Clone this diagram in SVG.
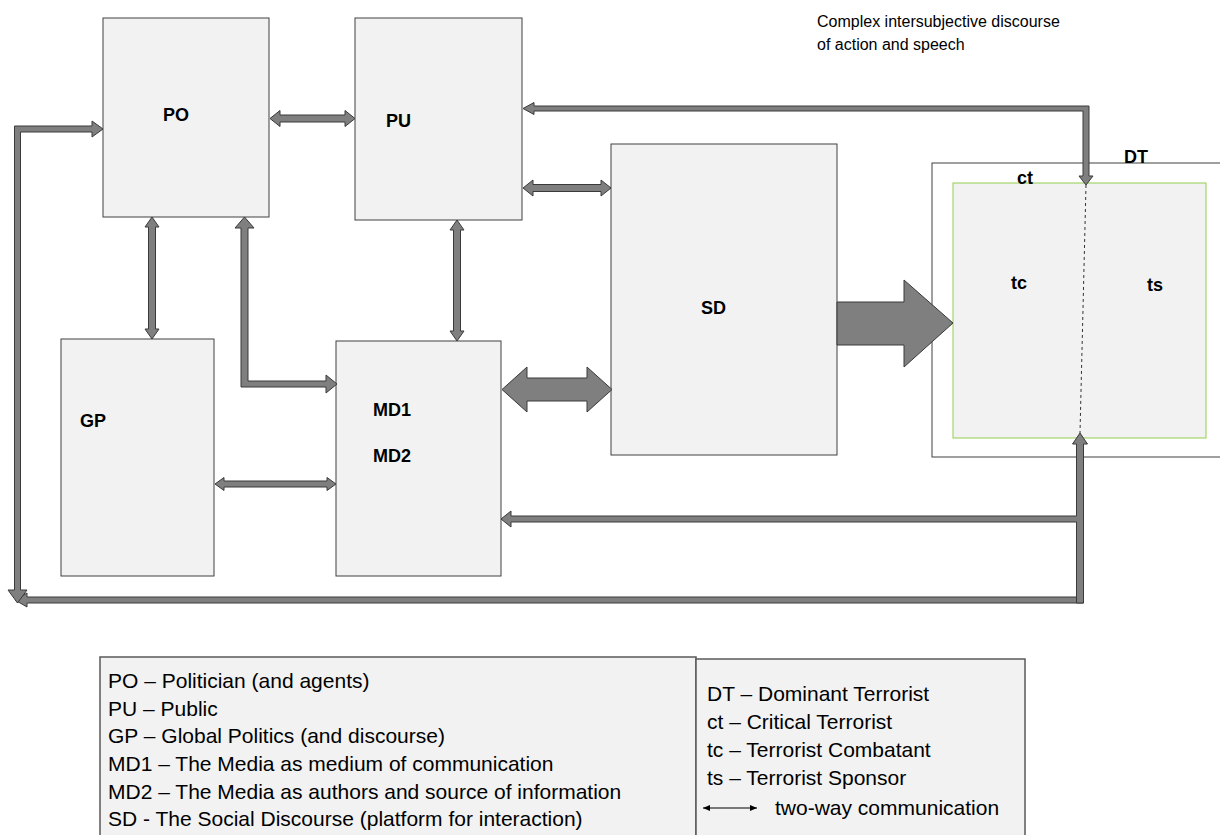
<svg xmlns="http://www.w3.org/2000/svg" width="1220" height="835" viewBox="0 0 1220 835">
<defs>
<style>
.box{fill:#f2f2f2;stroke:#404040;stroke-width:1}
.lbl{font-family:"Liberation Sans",Arial,sans-serif;font-weight:bold;font-size:18px;fill:#000}
.txt{font-family:"Liberation Sans",Arial,sans-serif;font-size:21px;fill:#000}
.note{font-family:"Liberation Sans",Arial,sans-serif;font-size:16px;fill:#000}
.arr{fill:#7f7f7f;stroke:#3a3a3a;stroke-width:1;stroke-linejoin:miter}
</style>
<marker id="th" markerWidth="8" markerHeight="8" refX="7" refY="4" orient="auto-start-reverse" markerUnits="userSpaceOnUse">
<path d="M0,1 L7,4 L0,7 z" fill="#000"/>
</marker>
</defs>
<rect width="1220" height="835" fill="#fff"/>

<g id="note">
<text class="note" x="817" y="27">Complex intersubjective discourse</text>
<text class="note" x="817" y="50">of action and speech</text>
</g>

<g id="DT">
<rect x="932" y="163" width="300" height="294" fill="#fff" stroke="#404040" stroke-width="1"/>
<text class="lbl" x="1124" y="163">DT</text>
</g>
<g id="ct">
<rect x="953" y="183" width="253" height="255" fill="#f2f2f2" stroke="#92d050" stroke-width="1"/>
<text class="lbl" x="1017" y="184">ct</text>
<line x1="1086" y1="185" x2="1080" y2="433" stroke="#333" stroke-width="1" stroke-dasharray="3 3"/>
<text class="lbl" x="1011" y="289">tc</text>
<text class="lbl" x="1147" y="291">ts</text>
</g>

<g id="PO"><rect class="box" x="103" y="18" width="166" height="199"/><text class="lbl" x="163" y="121">PO</text></g>
<g id="PU"><rect class="box" x="355" y="18" width="167" height="202"/><text class="lbl" x="386" y="127">PU</text></g>
<g id="SD"><rect class="box" x="611" y="144" width="226" height="311"/><text class="lbl" x="701" y="314">SD</text></g>
<g id="GP"><rect class="box" x="61" y="339" width="153" height="237"/><text class="lbl" x="80" y="427">GP</text></g>
<g id="MD"><rect class="box" x="336" y="341" width="165" height="235"/><text class="lbl" x="373" y="416">MD1</text><text class="lbl" x="373" y="462">MD2</text></g>

<g id="connectors">
<polygon class="arr" points="270,118.5 280,110.5 280,115 345,115 345,110.5 355,118.5 345,126.5 345,122 280,122 280,126.5"/>
<polygon class="arr" points="523,188 533,180 533,184.5 601,184.5 601,180 611,188 601,196 601,191.5 533,191.5 533,196"/>
<polygon class="arr" points="523,108.5 534,102.5 534,106 1089,106 1089,176 1093,176 1086,185 1079,176 1083,176 1083,111 534,111 534,114.5"/>
<polygon class="arr" points="152,217 159,227 155.5,227 155.5,329 159,329 152,339 145,329 148.5,329 148.5,227 145,227"/>
<polygon class="arr" points="244.5,217 254,228 248,228 248,381 326,381 326,375 337,384 326,393 326,387 241,387 241,228 235,228"/>
<polygon class="arr" points="457,220 464,230 460.5,230 460.5,331 464,331 457,341 450,331 453.5,331 453.5,230 450,230"/>
<polygon class="arr" points="215,484 224,477.5 224,481 327,481 327,477.5 336,484 327,490.5 327,487 224,487 224,490.5"/>
<polygon class="arr" points="502,389.5 527,367 527,378 587,378 587,367 612,389.5 587,412 587,401 527,401 527,412"/>
<polygon class="arr" points="837,302 904,302 904,280 953,323 904,367 904,345 837,345"/>
<polygon class="arr" points="1083.5,597 27,597 27,593 15,600 27,607 27,603 1083.5,603"/>
<polygon class="arr" points="1080,433 1087.5,444 1083.5,444 1083.5,603 1076.5,603 1076.5,522 511,522 511,527 501,519 511,511 511,516 1076.5,516 1076.5,444 1072.5,444"/>
<polygon class="arr" points="8,590 14.5,590 14.5,126 92,126 92,121 103,129 92,137 92,132 20.5,132 20.5,590 27,590 17.5,603"/>
</g>

<g id="legend1">
<rect x="100" y="657" width="596" height="190" fill="#f2f2f2" stroke="#595959" stroke-width="1.5"/>
<text class="txt" x="108" y="688">PO – Politician (and agents)</text>
<text class="txt" x="108" y="716">PU – Public</text>
<text class="txt" x="108" y="743">GP – Global Politics (and discourse)</text>
<text class="txt" x="108" y="771">MD1 – The Media as medium of communication</text>
<text class="txt" x="108" y="799">MD2 – The Media as authors and source of information</text>
<text class="txt" x="108" y="826">SD  - The Social Discourse (platform for interaction)</text>
</g>
<g id="legend2">
<rect x="696" y="659" width="329" height="190" fill="#f2f2f2" stroke="#595959" stroke-width="1.5"/>
<text class="txt" x="707" y="701">DT – Dominant Terrorist</text>
<text class="txt" x="707" y="729">ct – Critical Terrorist</text>
<text class="txt" x="707" y="757">tc – Terrorist Combatant</text>
<text class="txt" x="707" y="785">ts – Terrorist Sponsor</text>
<line x1="703" y1="808" x2="757" y2="808" stroke="#000" stroke-width="1" marker-start="url(#th)" marker-end="url(#th)"/>
<text class="txt" x="775" y="815">two-way communication</text>
</g>
</svg>
